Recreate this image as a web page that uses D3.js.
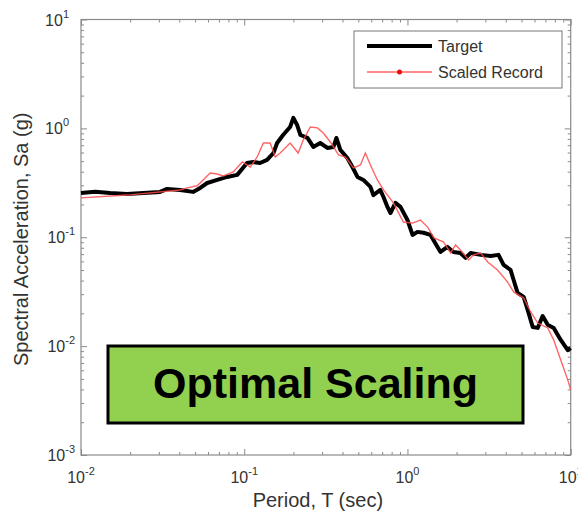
<!DOCTYPE html>
<html>
<head>
<meta charset="utf-8">
<script src="https://cdn.jsdelivr.net/npm/d3@7"></script>
<style>
  body { margin: 0; background: #fff; }
  text { font-family: Arial, "Liberation Sans", sans-serif; }
</style>
</head>
<body>
<svg width="578" height="519"></svg>
<script>
// Target spectrum (period in sec, Sa in g)
const targetT = [0.01, 0.0122, 0.0151, 0.0191, 0.0305, 0.0337, 0.0405, 0.0486, 0.0537, 0.0593, 0.0683, 0.0786, 0.0906,
  0.104, 0.1135, 0.125, 0.138, 0.151, 0.159, 0.173, 0.191, 0.200, 0.211, 0.221, 0.244, 0.265, 0.292, 0.323, 0.352,
  0.367, 0.388, 0.428, 0.460, 0.494, 0.537, 0.593, 0.618, 0.682, 0.713, 0.754, 0.787, 0.844, 0.906, 1.00, 1.074,
  1.151, 1.254, 1.384, 1.528, 1.594, 1.758, 1.914, 2.11, 2.27, 2.44, 2.81, 3.23, 3.61, 3.88, 4.28, 4.47, 4.73,
  5.15, 5.45, 5.85, 6.28, 6.73, 7.23, 7.87, 8.69, 9.59, 10];
const targetSa = [0.255, 0.262, 0.255, 0.250, 0.261, 0.278, 0.272, 0.261, 0.284, 0.315, 0.336, 0.358, 0.374,
  0.481, 0.491, 0.481, 0.513, 0.594, 0.734, 0.869, 1.03, 1.25, 1.07, 0.869, 0.817, 0.675, 0.734, 0.661, 0.675,
  0.817, 0.634, 0.535, 0.442, 0.358, 0.336, 0.290, 0.244, 0.272, 0.234, 0.190, 0.167, 0.207, 0.190, 0.144, 0.105,
  0.112, 0.110, 0.105, 0.0815, 0.0733, 0.0815, 0.0733, 0.0717, 0.0646, 0.0717, 0.0689, 0.0674, 0.0689, 0.0557,
  0.0501, 0.0405, 0.0308, 0.0283, 0.0215, 0.0150, 0.0147, 0.0189, 0.0157, 0.0147, 0.0114, 0.0092, 0.0096];

// Scaled record spectrum
const scaledT = [0.01, 0.0191, 0.0405, 0.0447, 0.0515, 0.0560, 0.0618, 0.0683, 0.0743, 0.0857, 0.0973, 0.109,
  0.120, 0.131, 0.144, 0.155, 0.166, 0.191, 0.214, 0.230, 0.254, 0.281, 0.305, 0.337, 0.378, 0.417, 0.467, 0.515,
  0.552, 0.593, 0.654, 0.713, 0.820, 0.944, 1.074, 1.20, 1.33, 1.45, 1.66, 1.84, 1.97, 2.11, 2.37, 2.54, 2.81,
  3.10, 3.56, 4.10, 4.47, 5.15, 5.69, 6.28, 7.23, 7.87, 8.69, 9.59, 10];
const scaledSa = [0.230, 0.244, 0.272, 0.284, 0.297, 0.336, 0.389, 0.381, 0.366, 0.398, 0.491, 0.442,
  0.546, 0.734, 0.734, 0.546, 0.594, 0.734, 0.594, 0.782, 1.03, 1.01, 0.907, 0.750, 0.570, 0.546, 0.433, 0.461,
  0.594, 0.461, 0.336, 0.272, 0.207, 0.138, 0.135, 0.144, 0.124, 0.0986, 0.0906, 0.0717, 0.0849, 0.0764, 0.0619,
  0.0689, 0.0717, 0.0593, 0.0501, 0.0389, 0.0315, 0.0277, 0.0206, 0.0163, 0.0147, 0.0114, 0.00746, 0.0049, 0.00396];

// Tick exponents (labels are 10^n)
const xTickExp = [-2, -1, 0, 1];
const yTickExp = [-3, -2, -1, 0, 1];
const seriesNames = ["Target", "Scaled Record"];
const bannerText = "Optimal Scaling";

const margin = { top: 19.5, right: 7.3, bottom: 64, left: 81 };
const width = 578 - margin.left - margin.right;
const height = 519 - margin.top - margin.bottom;
const axisColor = "#8a8a8a";
const textColor = "#333";

const svg = d3.select("svg");
const g = svg.append("g")
  .attr("transform", "translate(" + margin.left + "," + margin.top + ")");

const x = d3.scaleLog().domain([0.01, 10]).range([0, width]);
const y = d3.scaleLog().domain([0.001, 10]).range([height, 0]);

// minor ticks (2..9 in each decade)
function minors(lo, hi) {
  const out = [];
  for (let e = lo; e < hi; e++) for (let m = 2; m <= 9; m++) out.push(m * Math.pow(10, e));
  return out;
}
const xMajor = xTickExp.map(e => Math.pow(10, e));
const yMajor = yTickExp.map(e => Math.pow(10, e));

function styleAxis(sel) {
  sel.select(".domain").remove();
  sel.selectAll("line").attr("stroke", axisColor);
}

// ticks pointing inward on all four sides
g.append("g").attr("transform", "translate(0," + height + ")")
  .call(d3.axisBottom(x).tickValues(xMajor).tickSize(-6).tickFormat("")).call(styleAxis);
g.append("g").attr("transform", "translate(0," + height + ")")
  .call(d3.axisBottom(x).tickValues(minors(-2, 1)).tickSize(-3).tickFormat("")).call(styleAxis);
g.append("g")
  .call(d3.axisTop(x).tickValues(xMajor).tickSize(-6).tickFormat("")).call(styleAxis);
g.append("g")
  .call(d3.axisTop(x).tickValues(minors(-2, 1)).tickSize(-3).tickFormat("")).call(styleAxis);
g.append("g")
  .call(d3.axisLeft(y).tickValues(yMajor).tickSize(-6).tickFormat("")).call(styleAxis);
g.append("g")
  .call(d3.axisLeft(y).tickValues(minors(-3, 1)).tickSize(-3).tickFormat("")).call(styleAxis);
g.append("g").attr("transform", "translate(" + width + ",0)")
  .call(d3.axisRight(y).tickValues(yMajor).tickSize(-6).tickFormat("")).call(styleAxis);
g.append("g").attr("transform", "translate(" + width + ",0)")
  .call(d3.axisRight(y).tickValues(minors(-3, 1)).tickSize(-3).tickFormat("")).call(styleAxis);

// box
g.append("rect")
  .attr("width", width).attr("height", height)
  .attr("fill", "none").attr("stroke", axisColor).attr("stroke-width", 1.2);

// tick labels 10^n
xTickExp.forEach(function(e) {
  const t = g.append("text")
    .attr("x", x(Math.pow(10, e)))
    .attr("y", height + 28)
    .attr("text-anchor", "middle")
    .attr("fill", textColor)
    .style("font-size", "16px");
  t.append("tspan").text("10");
  t.append("tspan").attr("dy", -8).style("font-size", "11px").text(e);
});
yTickExp.forEach(function(e) {
  const t = g.append("text")
    .attr("x", -19)
    .attr("y", y(Math.pow(10, e)) + 6)
    .attr("text-anchor", "end")
    .attr("fill", textColor)
    .style("font-size", "16px");
  t.append("tspan").text("10");
  t.append("tspan").attr("dy", -8).style("font-size", "11px").text(e);
  t.attr("x", -19 + (e < 0 ? 13 : 7));
});

// axis titles
g.append("text")
  .attr("x", width / 2 - 8)
  .attr("y", height + 52)
  .attr("text-anchor", "middle")
  .attr("fill", textColor)
  .style("font-size", "20px")
  .text("Period, T (sec)");
g.append("text")
  .attr("transform", "translate(" + (-53) + "," + (height / 2 + 2) + ") rotate(-90)")
  .attr("text-anchor", "middle")
  .attr("fill", textColor)
  .style("font-size", "20px")
  .text("Spectral Acceleration, Sa (g)");

// lines
const line = d3.line().x(d => x(d[0])).y(d => y(d[1]));
const targetData = targetT.map((t, i) => [t, targetSa[i]]);
const scaledData = scaledT.map((t, i) => [t, scaledSa[i]]);

g.append("path")
  .datum(targetData)
  .attr("fill", "none")
  .attr("stroke", "#000")
  .attr("stroke-width", 4)
  .attr("stroke-linejoin", "round")
  .attr("d", line);

g.append("path")
  .datum(scaledData)
  .attr("fill", "none")
  .attr("stroke", "#ff4a4a")
  .attr("stroke-opacity", 0.85)
  .attr("stroke-width", 1.4)
  .attr("d", line);

// legend
const leg = svg.append("g").attr("transform", "translate(354,31)");
leg.append("rect")
  .attr("width", 208).attr("height", 57)
  .attr("fill", "#fff").attr("stroke", "#777").attr("stroke-width", 1);
leg.append("line").attr("x1", 13).attr("x2", 78).attr("y1", 15).attr("y2", 15)
  .attr("stroke", "#000").attr("stroke-width", 4);
leg.append("line").attr("x1", 13).attr("x2", 78).attr("y1", 41).attr("y2", 41)
  .attr("stroke", "#ff4a4a").attr("stroke-opacity", 0.85).attr("stroke-width", 1.4);
leg.append("circle").attr("cx", 45.5).attr("cy", 41).attr("r", 2.5).attr("fill", "#f00");
leg.selectAll("text.lab")
  .data(seriesNames)
  .enter().append("text")
  .attr("class", "lab")
  .attr("x", 84)
  .attr("y", (d, i) => 21 + i * 26)
  .attr("fill", textColor)
  .style("font-size", "16px")
  .text(d => d);

// green banner
const ban = svg.append("g");
ban.append("rect")
  .attr("x", 108).attr("y", 346)
  .attr("width", 415).attr("height", 77)
  .attr("fill", "#92d050").attr("stroke", "#000").attr("stroke-width", 3);
ban.append("text")
  .attr("x", 315.5).attr("y", 398)
  .attr("text-anchor", "middle")
  .attr("fill", "#000")
  .style("font-size", "43px")
  .style("font-weight", "bold")
  .text(bannerText);
</script>
</body>
</html>
